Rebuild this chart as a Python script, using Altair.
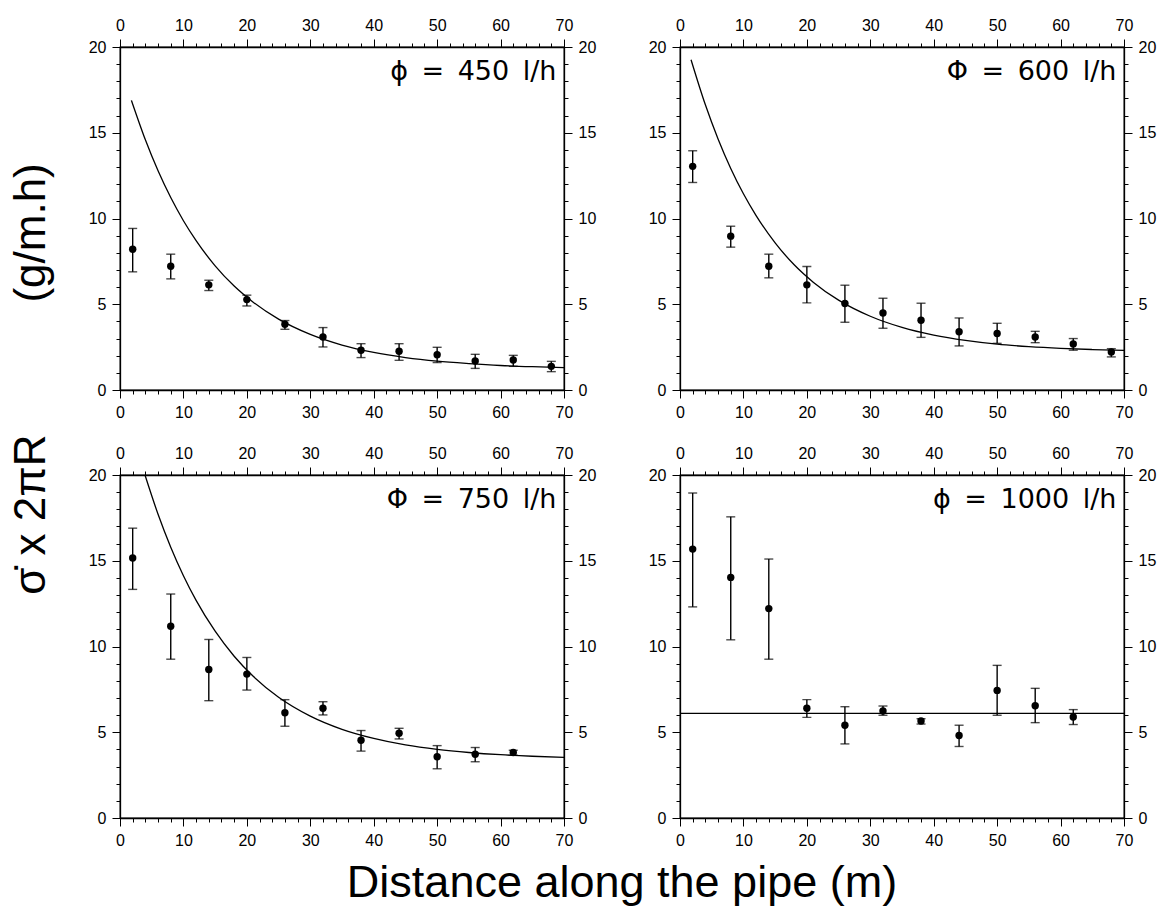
import altair as alt
import pandas as pd

# ---------------- data ----------------
DIST12 = [2, 8, 14, 20, 26, 32, 38, 44, 50, 56, 62, 68]
DIST11 = [2, 8, 14, 20, 26, 32, 38, 44, 50, 56, 62]

Y450 = [8.21, 7.22, 6.13, 5.27, 3.83, 3.09, 2.32, 2.26, 2.06, 1.69, 1.75, 1.38]
LO450 = [6.89, 6.48, 5.80, 4.90, 3.54, 2.51, 1.89, 1.73, 1.60, 1.26, 1.38, 1.07]
HI450 = [9.42, 7.92, 6.40, 5.53, 4.05, 3.64, 2.70, 2.70, 2.49, 2.08, 2.02, 1.67]

Y600 = [13.04, 8.97, 7.22, 6.13, 5.04, 4.49, 4.07, 3.40, 3.29, 3.09, 2.68, 2.22]
LO600 = [12.10, 8.33, 6.54, 5.08, 3.95, 3.60, 3.07, 2.57, 2.72, 2.76, 2.32, 1.93]
HI600 = [13.95, 9.55, 7.92, 7.20, 6.11, 5.35, 5.06, 4.20, 3.89, 3.42, 3.00, 2.41]

Y750 = [15.16, 11.18, 8.66, 8.39, 6.14, 6.40, 4.53, 4.94, 3.57, 3.72, 3.82]
LO750 = [13.33, 9.26, 6.84, 7.46, 5.35, 6.01, 3.90, 4.61, 2.87, 3.28, 3.66]
HI750 = [16.90, 13.06, 10.41, 9.36, 6.90, 6.78, 5.10, 5.23, 4.22, 4.11, 3.95]

Y1000 = [15.68, 14.03, 12.21, 6.40, 5.41, 6.24, 5.66, 4.81, 7.44, 6.55, 5.89]
LO1000 = [12.31, 10.39, 9.26, 5.87, 4.32, 5.99, 5.48, 4.17, 5.99, 5.56, 5.45]
HI1000 = [18.95, 17.56, 15.10, 6.90, 6.49, 6.53, 5.79, 5.41, 8.90, 7.56, 6.32]

# fitted curves
CX450 = [1.8, 4, 6, 8, 10, 12, 15, 18, 21, 25, 30, 35, 40, 45, 50, 55, 60, 65, 70]
CY450 = [16.89, 14.59, 12.78, 11.22, 9.87, 8.71, 7.24, 6.06, 5.12, 4.13, 3.24, 2.62,
         2.19, 1.89, 1.68, 1.54, 1.43, 1.36, 1.31]
CX600 = [1.74, 4, 6, 8, 10, 12, 15, 18, 21, 25, 30, 35, 40, 45, 50, 55, 60, 65, 70]
CY600 = [19.26, 16.63, 14.64, 12.92, 11.44, 10.17, 8.58, 7.30, 6.29, 5.24, 4.30, 3.65,
         3.20, 2.89, 2.67, 2.53, 2.43, 2.36, 2.31]
CX750 = [3.94, 6, 8, 10, 12, 15, 18, 21, 25, 30, 35, 40, 45, 50, 55, 60, 65, 70]
CY750 = [20.0, 17.71, 15.79, 14.13, 12.69, 10.89, 9.43, 8.26, 7.04, 5.94, 5.17, 4.64,
         4.26, 4.00, 3.82, 3.69, 3.60, 3.54]
CX1000 = [0, 70]
CY1000 = [6.1, 6.1]

LABELS = ["\u03d5\u2002=\u2002450\u2002l/h", "\u03a6\u2002=\u2002600\u2002l/h",
          "\u03a6\u2002=\u2002750\u2002l/h", "\u03d5\u2002=\u20021000\u2002l/h"]
LABEL_X = [68.8]
LABEL_Y = [18.1]

X_MAJOR = list(range(0, 71, 10))
X_MINOR = list(range(0, 71, 2))
Y_MAJOR = list(range(0, 21, 5))
Y_MINOR = list(range(0, 21, 1))
X_DOMAIN = [0, 70]
Y_DOMAIN = [0, 20]

X_TITLE = "Distance along the pipe (m)"
Y_TITLE = "\u03c3\u0307\u00a0x\u00a02\u03c0R\u2003\u2003\u2003(g/m.h)"

TICK_FONT = "Liberation Sans"
W, H = 444, 343


def major_axis(orient, values):
    return alt.Axis(
        orient=orient, values=values, title=None, grid=False, tickSize=8,
        labelFlush=False, labelOverlap=False, labelPadding=6, labelFontSize=16,
        labelFont=TICK_FONT, labelColor="black", domainColor="black",
        tickColor="black", domainWidth=1.3, tickWidth=1, format="d",
    )


def minor_axis(orient, values):
    return alt.Axis(
        orient=orient, values=values, title=None, grid=False, tickSize=4,
        labels=False, domain=False, tickColor="black", tickWidth=1,
    )


def xsc():
    return alt.Scale(domain=X_DOMAIN, nice=False, zero=False)


def ysc():
    return alt.Scale(domain=Y_DOMAIN, nice=False, zero=False)


def axis_layer(pts, xo, yo, xv, yv, kind):
    f = major_axis if kind == "major" else minor_axis
    return alt.Chart(pts).mark_point(opacity=0).encode(
        x=alt.X("x:Q", scale=xsc(), axis=f(xo, xv)),
        y=alt.Y("y:Q", scale=ysc(), axis=f(yo, yv)),
    )


def panel(dist, yv, lo, hi, cx, cy, label):
    pts = pd.DataFrame({"x": dist, "y": yv, "lo": lo, "hi": hi})
    cur = pd.DataFrame({"x": cx, "y": cy})
    lab = pd.DataFrame({"x": LABEL_X, "y": LABEL_Y, "t": [label]})
    xb = alt.X("x:Q", scale=xsc(), axis=major_axis("bottom", X_MAJOR))
    yl = alt.Y("y:Q", scale=ysc(), axis=major_axis("left", Y_MAJOR))
    ylo = alt.Y("lo:Q", scale=ysc(), axis=major_axis("left", Y_MAJOR))
    yhi = alt.Y("hi:Q", scale=ysc(), axis=major_axis("left", Y_MAJOR))

    curve = alt.Chart(cur).mark_line(color="black", strokeWidth=1.3,
                                      interpolate="monotone").encode(x=xb, y=yl)
    bars = alt.Chart(pts).mark_rule(color="black", strokeWidth=1.4).encode(
        x=xb, y=ylo, y2="hi:Q")
    cap_lo = alt.Chart(pts).mark_tick(color="black", orient="horizontal", size=9,
                                      thickness=1.4).encode(x=xb, y=ylo)
    cap_hi = alt.Chart(pts).mark_tick(color="black", orient="horizontal", size=9,
                                      thickness=1.4).encode(x=xb, y=yhi)
    dots = alt.Chart(pts).mark_circle(color="black", size=55, opacity=1).encode(x=xb, y=yl)
    txt = alt.Chart(lab).mark_text(align="right", baseline="alphabetic", fontSize=27,
                                   font="DejaVu Sans", color="black").encode(
        x=xb, y=yl, text="t:N")
    base = alt.layer(curve, bars, cap_lo, cap_hi, dots, txt)

    return alt.layer(
        base,
        axis_layer(pts, "top", "right", X_MAJOR, Y_MAJOR, "major"),
        axis_layer(pts, "bottom", "left", X_MINOR, Y_MINOR, "minor"),
        axis_layer(pts, "top", "right", X_MINOR, Y_MINOR, "minor"),
    ).resolve_scale(x="independent", y="independent").properties(width=W, height=H)


p1 = panel(DIST12, Y450, LO450, HI450, CX450, CY450, LABELS[0])
p2 = panel(DIST12, Y600, LO600, HI600, CX600, CY600, LABELS[1])
p3 = panel(DIST11, Y750, LO750, HI750, CX750, CY750, LABELS[2])
p4 = panel(DIST11, Y1000, LO1000, HI1000, CX1000, CY1000, LABELS[3])

row1 = alt.hconcat(p1, p2, spacing=50)
row2 = alt.hconcat(p3, p4, spacing=50)
grid = alt.vconcat(row1, row2, spacing=23).properties(
    title=alt.TitleParams(X_TITLE, orient="bottom", anchor="middle", fontSize=45,
                          font="Liberation Sans", fontWeight="normal", color="black",
                          offset=12))

chart = alt.hconcat(grid).properties(
    title=alt.TitleParams(Y_TITLE, orient="left", anchor="middle", fontSize=44,
                          font="Liberation Sans", fontWeight="normal", color="black",
                          offset=34, dx=82),
    padding={"left": 9, "top": 16, "right": 0, "bottom": 0},
).configure_view(stroke="black", strokeWidth=1.3)

chart.save("out.html", embed_options={"renderer": "svg", "actions": False})
